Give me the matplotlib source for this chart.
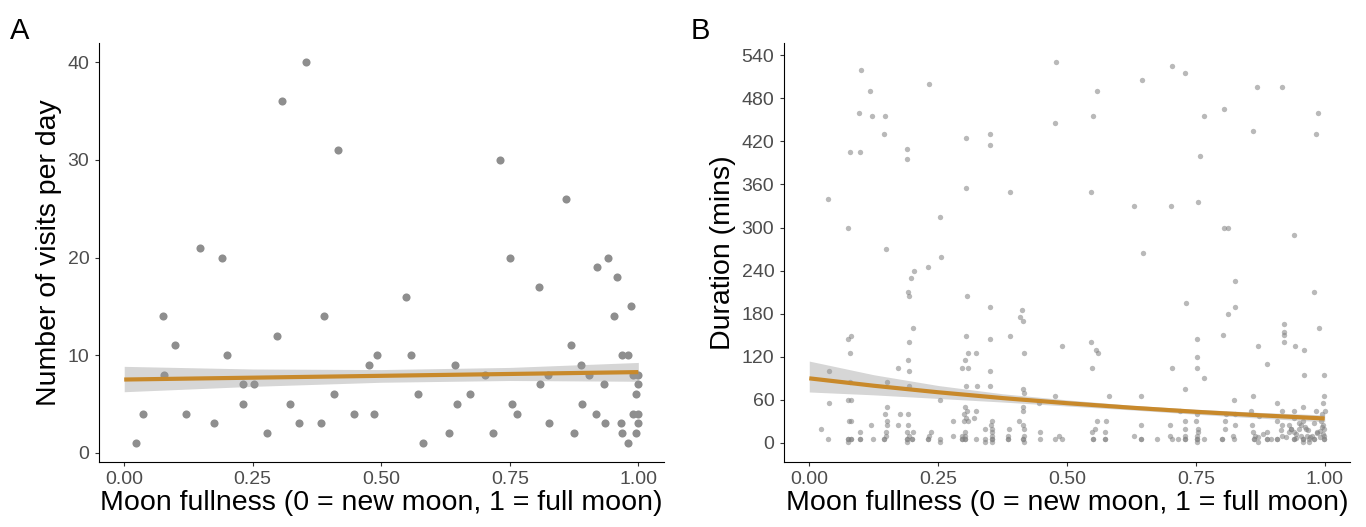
import matplotlib
matplotlib.use("Agg")
import matplotlib.pyplot as plt
import numpy as np

plt.rcParams['font.family'] = ['Liberation Sans', 'DejaVu Sans']

# ---------------- Panel A data: visits per day ----------------
visits_moon = [0.023, 0.037, 0.076, 0.077, 0.099, 0.121, 0.147, 0.175, 0.191, 0.200,
               0.231, 0.232, 0.253, 0.278, 0.297, 0.306, 0.323, 0.340, 0.353, 0.383,
               0.389, 0.409, 0.415, 0.447, 0.476, 0.485, 0.492, 0.549, 0.557, 0.572,
               0.582, 0.632, 0.644, 0.647, 0.672, 0.701, 0.717, 0.731, 0.751, 0.755,
               0.765, 0.806, 0.809, 0.824, 0.827, 0.860, 0.869, 0.874, 0.888, 0.891,
               0.905, 0.918, 0.920, 0.933, 0.935, 0.942, 0.953, 0.958, 0.966, 0.969,
               0.969, 0.979, 0.979, 0.985, 0.990, 0.990, 0.995, 0.995, 1.000, 1.000,
               1.000, 1.000]
visits_n = [1, 4, 14, 8, 11, 4, 21, 3, 20, 10,
            7, 5, 7, 2, 12, 36, 5, 3, 40, 3,
            14, 6, 31, 4, 9, 4, 10, 16, 10, 6,
            1, 2, 9, 5, 6, 8, 2, 30, 20, 5,
            4, 17, 7, 8, 3, 26, 11, 2, 9, 5,
            8, 4, 19, 7, 3, 20, 14, 18, 3, 2,
            10, 10, 1, 15, 8, 4, 6, 2, 8, 7,
            4, 3]

# fitted linear trend with 95% CI
fitA_x = [0.0, 0.25, 0.5, 0.75, 1.0]
fitA_y = [7.50, 7.69, 7.88, 8.07, 8.26]
fitA_lo = [6.25, 6.80, 7.22, 7.40, 7.32]
fitA_hi = [8.85, 8.58, 8.52, 8.74, 9.25]

# ---------------- Panel B data: visit duration ----------------
dur_moon = [
    # upper points
    0.101, 0.232, 0.118, 0.478, 0.097, 0.122, 0.147, 0.145, 0.476, 0.305,
    0.351, 0.351, 0.079, 0.099, 0.189, 0.189, 0.304, 0.389, 0.036, 0.254,
    0.075, 0.148, 0.256,
    0.703, 0.729, 0.646, 0.559, 0.869, 0.918, 0.551, 0.765, 0.805, 0.986,
    0.861, 0.983, 0.758, 0.547, 0.630, 0.702, 0.754, 0.804, 0.812, 0.940,
    0.647,
    # middle, left half
    0.230, 0.203, 0.197, 0.192, 0.193, 0.306, 0.351, 0.413, 0.408, 0.415,
    0.201, 0.080, 0.076, 0.304, 0.351, 0.389, 0.194, 0.079, 0.307, 0.323,
    0.416, 0.192, 0.303, 0.297, 0.308, 0.173, 0.038, 0.193, 0.351, 0.150,
    0.079, 0.193, 0.304, 0.325, 0.351, 0.414, 0.417, 0.075, 0.080, 0.254,
    0.476, 0.446, 0.039, 0.150, 0.415, 0.303, 0.306, 0.301, 0.415, 0.323,
    0.147, 0.176, 0.192, 0.305, 0.320,
    0.077, 0.080, 0.150, 0.278, 0.300, 0.308, 0.354, 0.407,
    0.119, 0.150, 0.173, 0.192, 0.352, 0.414,
    0.022, 0.340, 0.355, 0.388, 0.416,
    0.098, 0.148, 0.190, 0.202, 0.236, 0.303, 0.354, 0.448,
    0.148, 0.193, 0.233, 0.278, 0.297, 0.303, 0.354, 0.386, 0.416, 0.484,
    0.037, 0.076, 0.080, 0.098, 0.123, 0.145, 0.190, 0.199, 0.230, 0.253,
    0.297, 0.303, 0.324, 0.340, 0.354, 0.386, 0.414, 0.447, 0.476,
    0.076, 0.080, 0.145, 0.190, 0.199, 0.297, 0.303, 0.354, 0.386, 0.414,
    0.098, 0.230,
    0.076, 0.189, 0.253, 0.340, 0.355, 0.416,
    # middle, right half
    0.825, 0.979, 0.730, 0.825, 0.812, 0.921, 0.920, 0.920, 0.988, 0.803,
    0.752, 0.547, 0.920, 0.491, 0.871, 0.943, 0.960, 0.556, 0.560, 0.752,
    0.888, 0.549, 0.704, 0.752, 0.766, 0.960, 0.998, 0.729, 0.582, 0.643,
    0.861, 0.998, 0.823, 0.908, 0.997, 0.958, 1.000, 0.719, 0.857, 0.918,
    0.940, 0.983, 0.752, 0.808, 0.826, 0.872, 0.994,
    0.559, 0.575, 0.729, 0.750, 0.806, 0.908, 0.958,
    0.643, 0.700, 0.826, 0.859, 0.918, 0.953, 0.997,
    0.554, 0.729, 0.755, 0.806, 0.934, 0.963, 0.999,
    0.549, 0.574, 0.754, 0.861, 0.888, 0.940, 0.985,
    0.630, 0.700, 0.729, 0.752, 0.822, 0.864, 0.918, 0.953, 0.999,
    0.491, 0.551, 0.574, 0.643, 0.674, 0.703, 0.716, 0.729, 0.752, 0.766,
    0.800, 0.824, 0.862, 0.888, 0.907, 0.940, 0.957, 0.979, 0.999,
    0.551, 0.574, 0.643, 0.729, 0.752, 0.800, 0.862, 0.888, 0.907, 0.940,
    0.957, 0.979, 0.999,
    0.870, 0.880, 0.895, 0.915, 0.925, 0.930, 0.945, 0.950, 0.965, 0.970,
    0.985, 0.990, 0.995,
    0.930, 0.945, 0.968, 0.975, 0.992, 0.935, 0.950, 0.972, 0.990, 0.940,
    0.962, 0.980, 0.996,
    0.752, 0.871, 0.957, 0.970,
]
dur_mins = [
    520, 500, 490, 530, 460, 455, 455, 430, 445, 425,
    430, 415, 405, 405, 410, 395, 355, 350, 340, 315,
    300, 270, 259,
    525, 515, 505, 490, 495, 495, 455, 455, 465, 460,
    435, 430, 400, 350, 330, 330, 335, 300, 300, 290,
    264,
    245, 239, 230, 210, 205, 205, 190, 185, 175, 170,
    160, 149, 145, 149, 145, 149, 140, 125, 125, 125,
    125, 115, 115, 105, 105, 105, 100, 100, 100, 85,
    85, 80, 80, 80, 80, 75, 70, 60, 60, 60,
    65, 55, 55, 50, 50, 50, 45, 40, 45, 45,
    40, 40, 40, 35, 35,
    30, 30, 30, 30, 30, 30, 30, 30,
    25, 25, 25, 25, 25, 25,
    20, 20, 20, 20, 20,
    15, 15, 15, 15, 15, 15, 15, 15,
    10, 10, 10, 10, 10, 10, 10, 10, 10, 10,
    5, 5, 5, 5, 5, 5, 5, 5, 5, 5,
    5, 5, 5, 5, 5, 5, 5, 5, 5,
    6, 6, 6, 6, 6, 6, 6, 6, 6, 6,
    6, 6,
    1, 1, 1, 1, 1, 1,
    225, 210, 195, 190, 180, 165, 155, 150, 160, 150,
    145, 140, 140, 135, 135, 135, 130, 130, 125, 120,
    110, 105, 105, 105, 90, 95, 95, 75, 65, 65,
    65, 65, 60, 55, 55, 50, 45, 45, 45, 45,
    45, 45, 40, 40, 40, 38, 40,
    30, 30, 30, 30, 30, 30, 30,
    25, 25, 25, 25, 25, 25, 25,
    20, 20, 20, 20, 20, 20, 20,
    15, 15, 15, 15, 15, 15, 15,
    10, 10, 10, 10, 10, 10, 10, 10, 10,
    5, 5, 5, 5, 5, 5, 5, 5, 5, 5,
    5, 5, 5, 5, 5, 5, 5, 5, 5,
    6, 6, 6, 6, 6, 6, 6, 6, 6, 6,
    6, 6, 6,
    8, 12, 6, 18, 9, 15, 7, 20, 10, 6,
    14, 8, 22,
    25, 12, 18, 10, 30, 20, 28, 8, 16, 35,
    22, 28, 12,
    1, 1, 1, 1,
]

# fitted trend with 95% CI
fitB_x = [0.0, 0.125, 0.25, 0.375, 0.5, 0.625, 0.75, 0.875, 1.0]
fitB_y = [90.0, 79.7, 70.6, 62.5, 55.4, 49.1, 43.4, 38.5, 34.1]
fitB_lo = [71.0, 67.0, 62.0, 57.0, 51.5, 46.0, 40.0, 34.5, 29.5]
fitB_hi = [114.0, 95.0, 80.0, 68.5, 60.0, 52.5, 47.0, 42.5, 39.0]

xticksAB = [0.0, 0.25, 0.5, 0.75, 1.0]
xtick_labels = ["0.00", "0.25", "0.50", "0.75", "1.00"]
yticksA = [0, 10, 20, 30, 40]
yticksB = [0, 60, 120, 180, 240, 300, 360, 420, 480, 540]

line_col = "#C8892B"
ribbon_col = "#999999"
W, H = 1366, 527

fig = plt.figure(figsize=(W / 100, H / 100), dpi=100)
bottom = 1 - 462 / H
height = (462 - 43.3) / H
axA = fig.add_axes([98.5 / W, bottom, 565 / W, height])
axB = fig.add_axes([783.5 / W, bottom, 566.5 / W, height])


def style(ax):
    for s in ["top", "right"]:
        ax.spines[s].set_visible(False)
    for s in ["left", "bottom"]:
        ax.spines[s].set_linewidth(0.8)
        ax.spines[s].set_color("black")
    ax.tick_params(direction="out", length=2.6, width=0.8, color="#333333",
                   labelcolor="#4D4D4D", labelsize=14, pad=4)
    ax.set_xticks(xticksAB)
    ax.set_xticklabels(xtick_labels)
    ax.set_xlim(-0.05, 1.049)
    ax.set_xlabel("Moon fullness (0 = new moon, 1 = full moon)", fontsize=20.5,
                  color="black", labelpad=1)


# Panel A
axA.scatter(visits_moon, visits_n, s=34, color="#8E8E8E", linewidths=0, zorder=2)
axA.fill_between(fitA_x, fitA_lo, fitA_hi, color=ribbon_col, alpha=0.4,
                 linewidth=0, zorder=3)
axA.plot(fitA_x, fitA_y, color=line_col, lw=3, zorder=4, solid_capstyle="butt")
style(axA)
axA.set_ylim(-0.95, 41.95)
axA.set_yticks(yticksA)
axA.set_ylabel("Number of visits per day", fontsize=20.5, labelpad=4)

# Panel B
axB.scatter(dur_moon, dur_mins, s=15, color="#808080", alpha=0.55, linewidths=0, zorder=2)
axB.fill_between(fitB_x, fitB_lo, fitB_hi, color=ribbon_col, alpha=0.4,
                 linewidth=0, zorder=3)
axB.plot(fitB_x, fitB_y, color=line_col, lw=3, zorder=4, solid_capstyle="butt")
style(axB)
axB.set_ylim(-26.5, 556.5)
axB.set_yticks(yticksB)
axB.set_ylabel("Duration (mins)", fontsize=20.5, labelpad=4)

fig.text(10 / W, 1 - 39 / H, "A", fontsize=21, va="baseline", ha="left")
fig.text(691 / W, 1 - 39 / H, "B", fontsize=21, va="baseline", ha="left")

fig.savefig("out.png", dpi=100, facecolor="white")
